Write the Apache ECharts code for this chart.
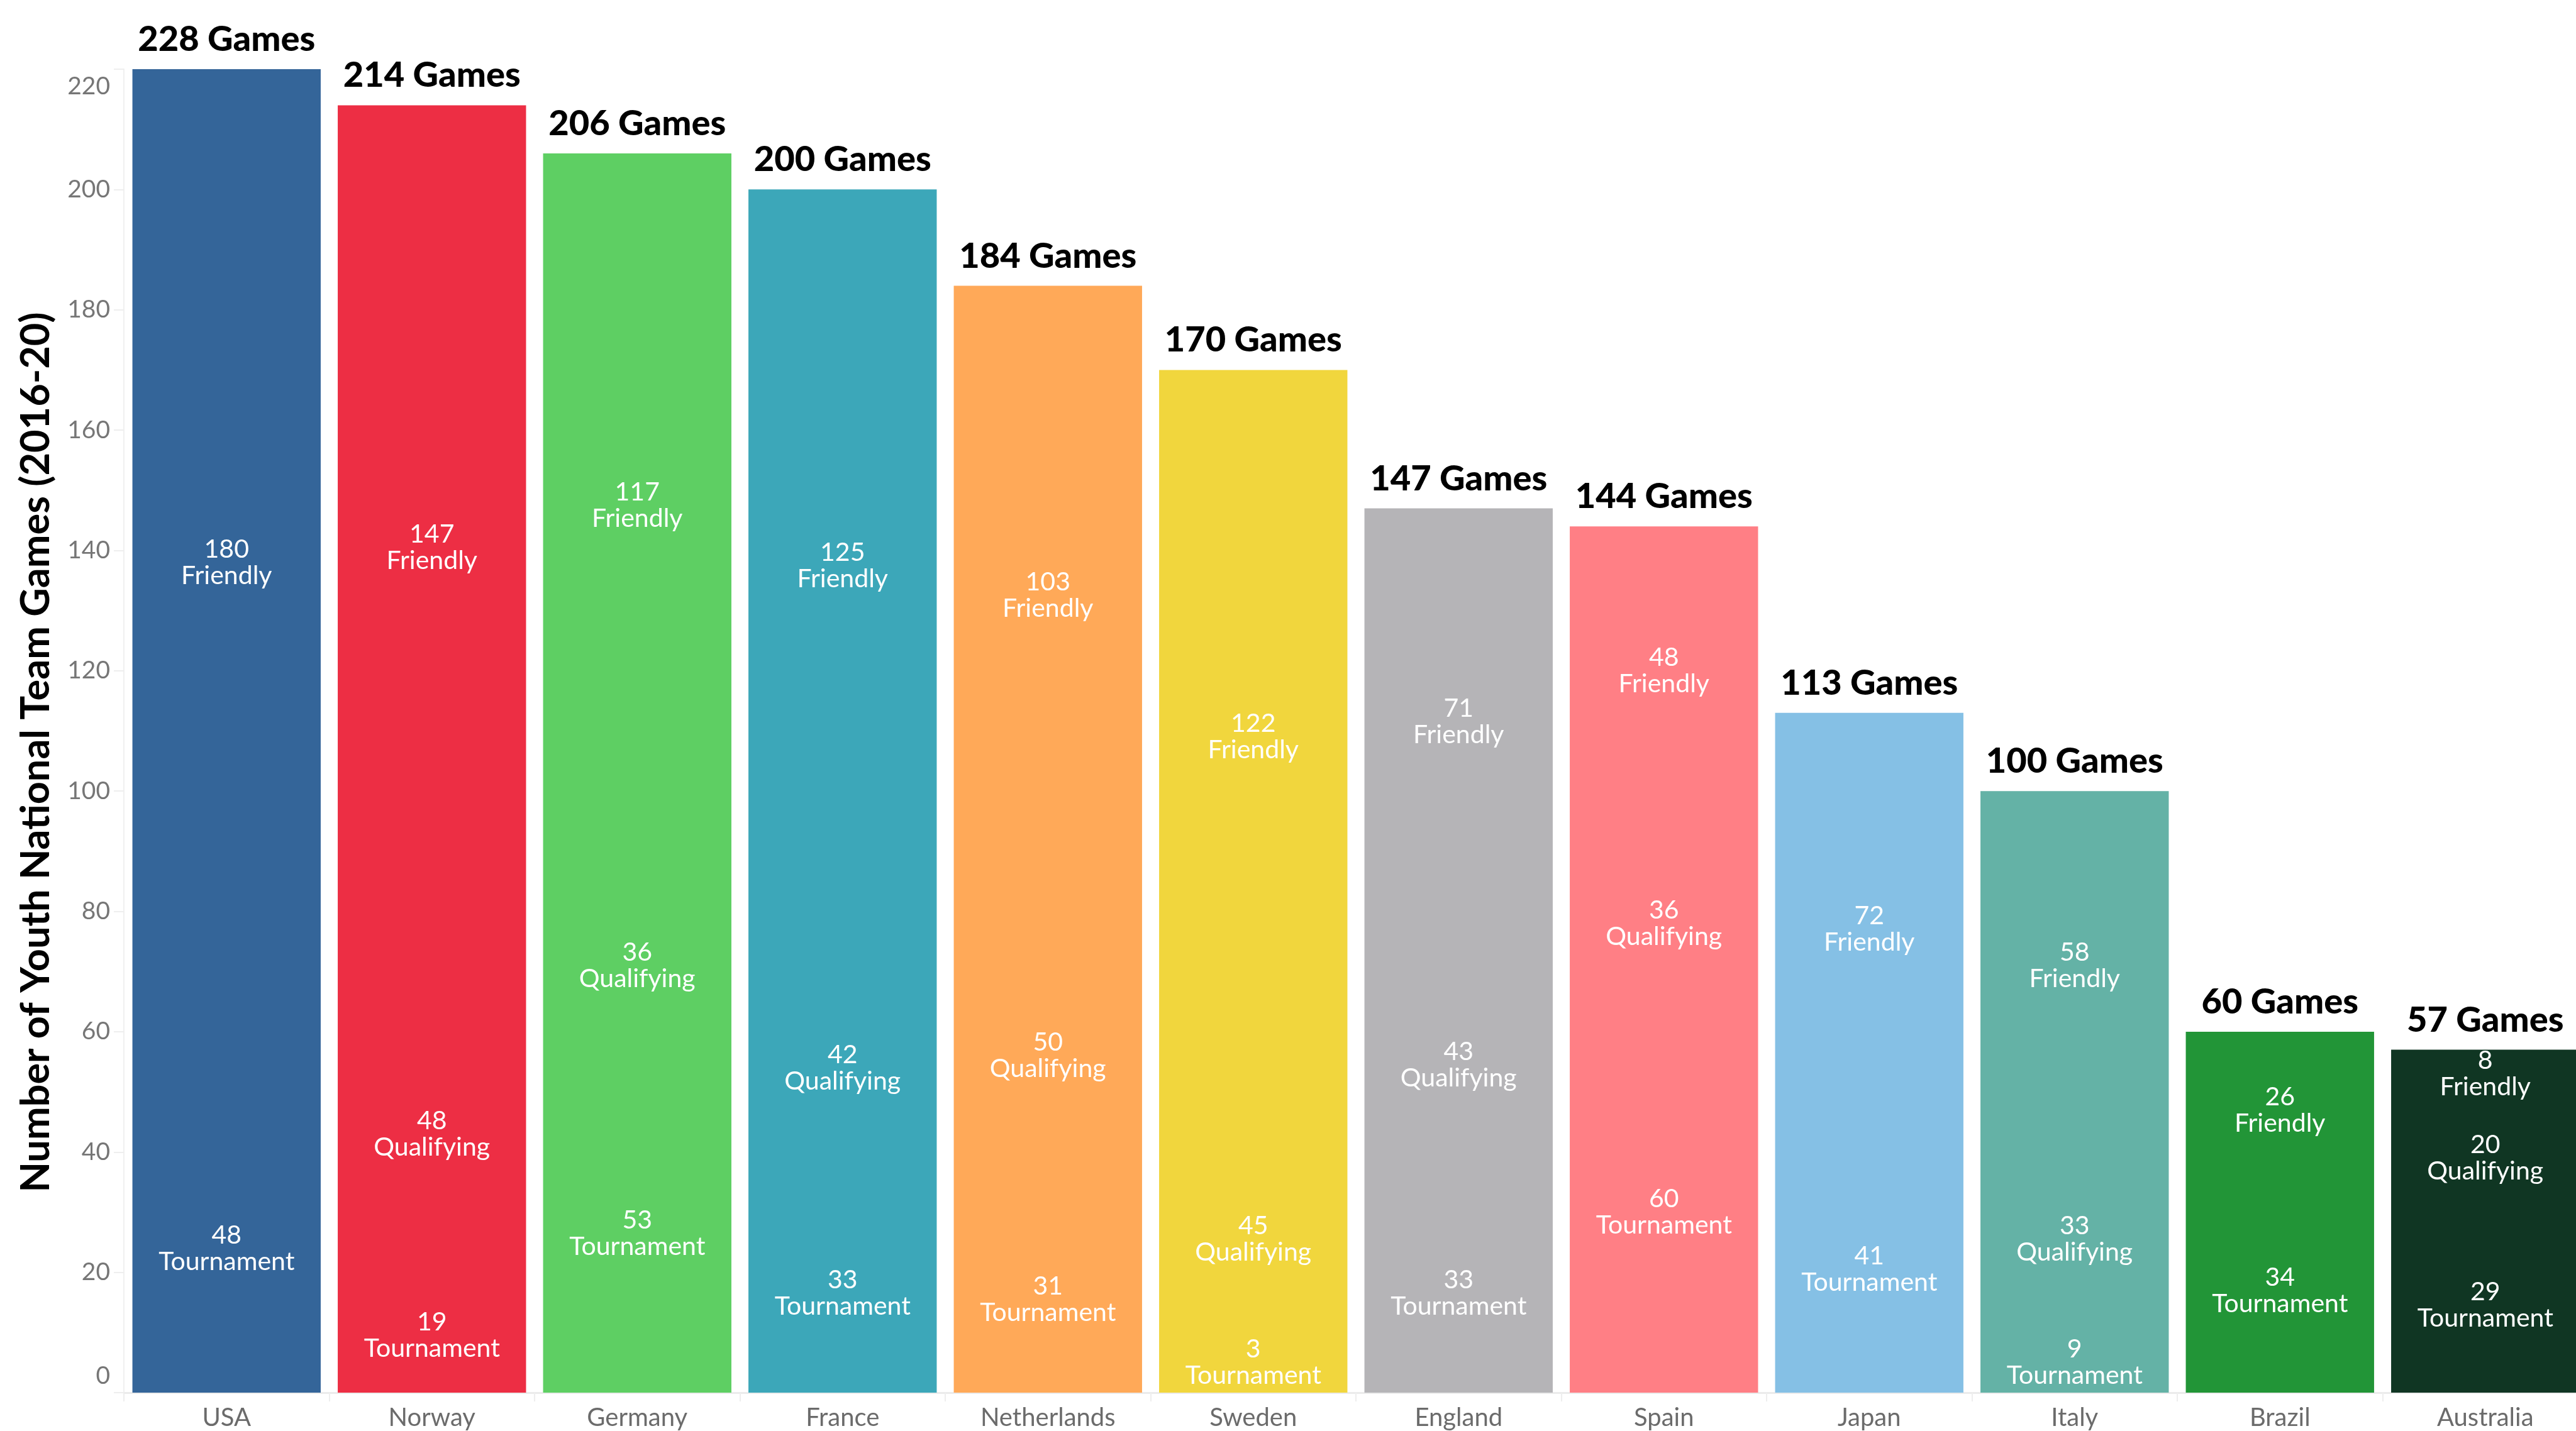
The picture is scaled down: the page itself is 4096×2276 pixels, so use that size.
<!DOCTYPE html>
<html>
<head>
<meta charset="utf-8">
<style>
  html, body { margin: 0; padding: 0; background: #ffffff; }
  #chart { width: 4096px; height: 2276px; }
</style>
<script src="https://cdn.jsdelivr.net/npm/echarts@6/dist/echarts.min.js"></script>
</head>
<body>
<div id="chart"></div>
<script>
// Youth national team games 2016-20, split by match type
const countries = ['USA', 'Norway', 'Germany', 'France', 'Netherlands', 'Sweden',
                   'England', 'Spain', 'Japan', 'Italy', 'Brazil', 'Australia'];
const tournament = [48, 19, 53, 33, 31, 3, 33, 60, 41, 9, 34, 29];
const qualifying = [null, 48, 36, 42, 50, 45, 43, 36, null, 33, null, 20];
const friendly   = [180, 147, 117, 125, 103, 122, 71, 48, 72, 58, 26, 8];
const countryColors = ['#346599', '#ED2E44', '#5ECF63', '#3CA7B9', '#FFA958', '#F1D63D',
                       '#B5B4B7', '#FF7F85', '#85C0E5', '#64B2A6', '#229537', '#103623'];
const yTicks = { min: 0, max: 220, step: 20 };

const totals = countries.map((_, i) => (tournament[i] || 0) + (qualifying[i] || 0) + (friendly[i] || 0));
const stackSeries = [['Tournament', tournament], ['Qualifying', qualifying], ['Friendly', friendly]];

const FONT = 'Lato, "Noto Sans", sans-serif';
const chart = echarts.init(document.getElementById('chart'), null, { renderer: 'canvas' });

// Centre each segment label on the segment midpoint, keeping it above the baseline
function segmentLabelLayout(params) {
  const si = params.seriesIndex - 1;
  const i = params.dataIndex;
  let base = 0;
  for (let k = 0; k < si; k++) base += stackSeries[k][1][i] || 0;
  const v = stackSeries[si][1][i] || 0;
  const target = chart.convertToPixel({ yAxisIndex: 0 }, base + v / 2);
  const zeroY = chart.convertToPixel({ yAxisIndex: 0 }, 0) - 6;
  const r = params.labelRect;
  const center = r.y + r.height / 2;
  let newCenter = target;
  if (newCenter + r.height / 2 > zeroY) newCenter = zeroY - r.height / 2;
  return { dy: newCenter - center };
}

// One solid bar per country for the total, with the total written above it
const series = [{
  name: 'Total',
  type: 'bar',
  data: totals.map((v, i) => ({ value: v, itemStyle: { color: countryColors[i] } })),
  barGap: '-100%',
  barCategoryGap: '8.3%',
  silent: true,
  clip: true,
  emphasis: { disabled: true },
  label: {
    show: true,
    position: 'top',
    distance: 19,
    formatter: p => p.value + ' Games',
    fontFamily: FONT,
    fontWeight: 900,
    fontSize: 56,
    color: '#000000'
  },
  z: 1
}];

// Match-type segments stacked over it, carrying the per-type labels
stackSeries.forEach(([name, values]) => {
  series.push({
    name: name,
    type: 'bar',
    stack: 'games',
    data: values,
    barGap: '-100%',
    barCategoryGap: '8.3%',
    clip: true,
    silent: true,
    emphasis: { disabled: true },
    itemStyle: { color: 'rgba(0,0,0,0)' },
    label: {
      show: true,
      position: 'inside',
      formatter: p => p.value + '\n' + p.seriesName,
      fontFamily: FONT,
      fontSize: 41,
      lineHeight: 42,
      color: '#ffffff'
    },
    labelLayout: segmentLabelLayout,
    z: 2
  });
});

chart.setOption({
  animation: false,
  backgroundColor: '#ffffff',
  grid: { left: 197, width: 3918, top: 110, bottom: 61, containLabel: false, outerBoundsMode: 'none' },
  xAxis: {
    type: 'category',
    data: countries,
    axisLine: { show: true, lineStyle: { color: '#ebebeb', width: 3 } },
    axisTick: { show: true, alignWithLabel: false, length: 14, lineStyle: { color: '#eeeeee', width: 2 } },
    axisLabel: { color: '#6b6b6b', fontFamily: FONT, fontSize: 40, margin: 20 }
  },
  yAxis: {
    type: 'value',
    min: yTicks.min,
    max: yTicks.max,
    interval: yTicks.step,
    name: 'Number of Youth National Team Games (2016-20)',
    nameLocation: 'middle',
    nameGap: 108,
    nameTextStyle: {
      fontFamily: FONT, fontWeight: 'bold', fontSize: 63, color: '#000000',
      padding: [0, 68, 0, 0]
    },
    splitLine: { show: false },
    axisLine: { show: true, lineStyle: { color: '#f0f0f0', width: 2 } },
    axisTick: { show: true, length: 16, lineStyle: { color: '#eeeeee', width: 2 } },
    axisLabel: {
      color: '#767676', fontFamily: FONT, fontSize: 39, lineHeight: 54, margin: 22,
      verticalAlignMaxLabel: 'top', verticalAlignMinLabel: 'bottom'
    }
  },
  series: series
});
</script>
</body>
</html>
